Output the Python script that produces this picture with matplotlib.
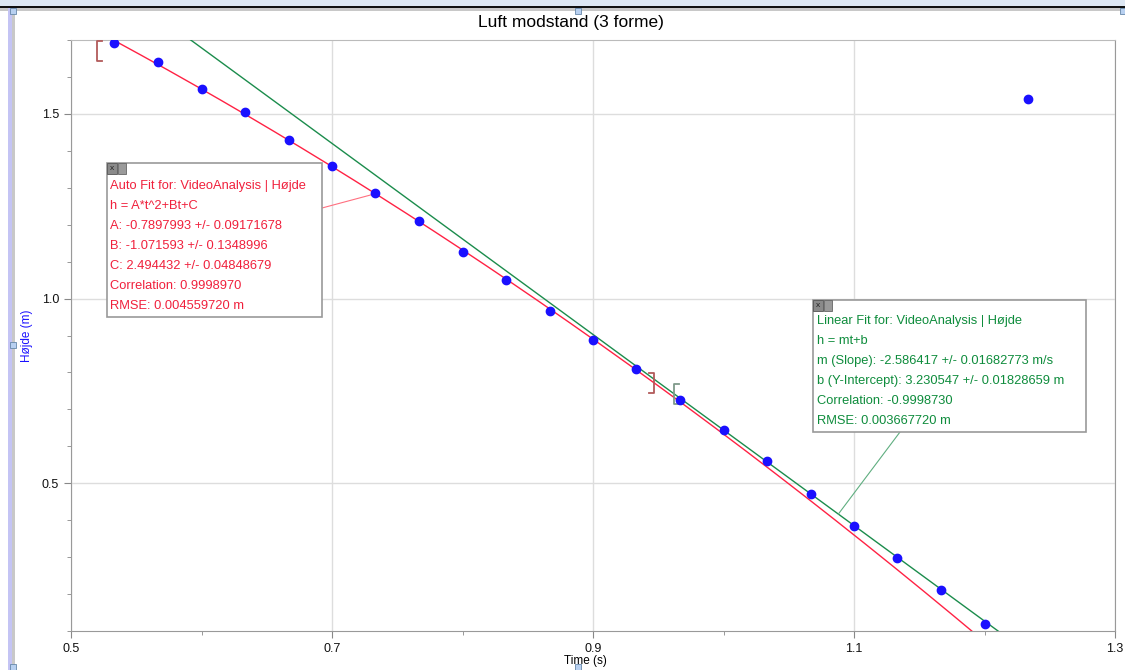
#!/usr/bin/env python3
# -*- coding: utf-8 -*-
"""
Luft modstand (3 forme) - video analysis plot with auto fit + linear fit
"""

import numpy as np
import matplotlib.pyplot as plt
from matplotlib.patches import Rectangle

plt.rcParams['font.family'] = ['Liberation Sans', 'DejaVu Sans']

# measured points (time in s, height in m)
T = [0.5333, 0.5667, 0.6000, 0.6333, 0.6667, 0.7000, 0.7333, 0.7667,
     0.8000, 0.8333, 0.8667, 0.9000, 0.9333, 0.9667, 1.0000, 1.0333,
     1.0667, 1.1000, 1.1333, 1.1667, 1.2000, 1.2333]
H = [1.692, 1.641, 1.568, 1.505, 1.430, 1.359, 1.286, 1.210,
     1.126, 1.050, 0.967, 0.889, 0.808, 0.725, 0.644, 0.560,
     0.470, 0.383, 0.297, 0.210, 0.118, 1.541]

# fit parameters
A, B, C = -0.7897993, -1.071593, 2.494432
m, b = -2.586417, 3.230547
quad_range = [0.520, 0.947]
lin_range = [0.962, 1.25]

quad_text = ["Auto Fit for: VideoAnalysis | Højde",
             "h = A*t^2+Bt+C",
             "A: -0.7897993 +/- 0.09171678",
             "B: -1.071593 +/- 0.1348996",
             "C: 2.494432 +/- 0.04848679",
             "Correlation: 0.9998970",
             "RMSE: 0.004559720 m"]
lin_text = ["Linear Fit for: VideoAnalysis | Højde",
            "h = mt+b",
            "m (Slope): -2.586417 +/- 0.01682773 m/s",
            "b (Y-Intercept): 3.230547 +/- 0.01828659 m",
            "Correlation: -0.9998730",
            "RMSE: 0.003667720 m"]

RED = '#ff2244'
RED_TXT = '#f0203c'
GREEN = '#1b8c4c'
GREEN_TXT = '#0e8c3c'
BLUE = '#1a10ff'


def quad(t):
    return A*t**2 + B*t + C


def lin(t):
    return m*t + b


fig = plt.figure(figsize=(11.25, 6.7), dpi=100)
W, Hpx = 1125., 670.
AX_L, AX_T, AX_W, AX_H = 71., 40., 1044., 591.
ax = fig.add_axes([AX_L/W, 1-(AX_T+AX_H)/Hpx, AX_W/W, AX_H/Hpx])


def fx(px):
    # pixel x -> axes fraction
    return (px-AX_L)/AX_W


def fy(py):
    # pixel y (from top) -> axes fraction
    return (AX_T+AX_H-py)/AX_H


xlo, xhi, ylo, yhi = 0.5, 1.3, 0.1, 1.7
ax.set_xlim(xlo, xhi)
ax.set_ylim(ylo, yhi)

# fit curves
tq = np.linspace(T[0], 1.21, 300)
ax.plot(tq, quad(tq), color=RED, lw=1.0, zorder=3)
tl = np.linspace(xlo, xhi, 50)
ax.plot(tl, lin(tl), color=GREEN, lw=1.0, zorder=3)

# data points
ax.plot(T, H, 'o', color=BLUE, ms=6, mec=BLUE, zorder=5)

# ticks & grid
ax.set_xticks([0.5, 0.7, 0.9, 1.1, 1.3])
ax.set_xticks([0.6, 0.8, 1.0, 1.2], minor=True)
ax.set_yticks([0.5, 1.0, 1.5])
ax.set_yticks([0.1, 0.2, 0.3, 0.4, 0.6, 0.7, 0.8, 0.9, 1.1, 1.2, 1.3, 1.4, 1.6, 1.7], minor=True)
ax.grid(True, which='major', color='#dddddd', lw=1.0, zorder=0)
ax.tick_params(which='both', direction='out', colors='#888888', labelcolor='#111111', labelsize=9)
ax.tick_params(which='major', length=5)
ax.tick_params(which='minor', length=3)
ax.tick_params(axis='x', pad=4)
for s in ax.spines.values():
    s.set_color('#999999')
ax.spines['top'].set_color('#bbbbbb')

ax.set_title("Luft modstand (3 forme)", fontsize=12.5, x=fx(571), y=1.0, pad=9)
ax.set_xlabel("Time (s)", fontsize=8.5)
ax.xaxis.set_label_coords(fx(585), fy(655))
ax.set_ylabel("Højde (m)", fontsize=8.5, color=BLUE)
ax.yaxis.set_label_coords(fx(33), 0.5)

# fit range brackets
dy = 10 * (yhi-ylo) / AX_H
dx = 5 * (xhi-xlo) / AX_W


def bracket(t, yc, col, left=True):
    s = 1 if left else -1
    ax.plot([t+s*dx, t, t, t+s*dx], [yc+dy, yc+dy, yc-dy, yc-dy],
            color=col, lw=1.3, clip_on=False, zorder=4)


bracket(quad_range[0], min(quad(quad_range[0]), yhi-0.03), '#b25a5a', True)
bracket(quad_range[1], quad(quad_range[1]), '#b25a5a', False)
bracket(lin_range[0], lin(lin_range[0]), '#7f9a8a', True)


# annotation boxes, given in pixel corners of the reference
def fit_box(px0, py0, px1, py1, lines, col, lx, ly0, dly):
    x0, x1 = fx(px0), fx(px1)
    y0, y1 = fy(py1), fy(py0)
    ax.add_patch(Rectangle((x0, y0), x1-x0, y1-y0, transform=ax.transAxes,
                           fc='white', ec='#999999', lw=1.2, zorder=6))
    # little close / minimise buttons
    bw, bh = 10/AX_W, 11/AX_H
    ax.add_patch(Rectangle((x0, y1-bh), bw, bh, transform=ax.transAxes,
                           fc='#8a8a8a', ec='#555555', lw=0.6, zorder=7))
    ax.text(x0+bw/2, y1-bh/2, 'x', transform=ax.transAxes, fontsize=6,
            ha='center', va='center', color='#222222', zorder=8)
    ax.add_patch(Rectangle((x0+bw+1/AX_W, y1-bh), 8/AX_W, bh, transform=ax.transAxes,
                           fc='#9a9a9a', ec='#666666', lw=0.6, zorder=7))
    for i, l in enumerate(lines):
        ax.text(fx(lx), fy(ly0 + i*dly), l, transform=ax.transAxes, fontsize=9.3,
                color=col, ha='left', va='center', zorder=8)


fit_box(107, 163, 322, 317, quad_text, RED_TXT, 110, 186, 20)
fit_box(813, 300, 1086, 432, lin_text, GREEN_TXT, 817, 321, 20)

# connector lines box -> fit
ax.annotate('', xy=(T[6], quad(T[6])), xycoords='data',
            xytext=(fx(322), fy(208)), textcoords='axes fraction',
            arrowprops=dict(arrowstyle='-', color='#ff7080', lw=0.8,
                            shrinkA=0, shrinkB=0), zorder=4)
ax.annotate('', xy=(1.088, lin(1.088)), xycoords='data',
            xytext=(fx(900), fy(432)), textcoords='axes fraction',
            arrowprops=dict(arrowstyle='-', color='#5fae80', lw=0.8,
                            shrinkA=0, shrinkB=0), zorder=4)

# window chrome around the graph
fig.patches.append(Rectangle((0, 1-6/Hpx), 1, 6/Hpx, transform=fig.transFigure,
                             fc='#dde7f3', ec='none'))
fig.patches.append(Rectangle((0, 1-8/Hpx), 1, 2/Hpx, transform=fig.transFigure,
                             fc='#111111', ec='none'))
fig.patches.append(Rectangle((0, 1-11/Hpx), 1, 3/Hpx, transform=fig.transFigure,
                             fc='#c8c8c8', ec='none'))
fig.patches.append(Rectangle((8/W, 0), 4/W, 1-8/Hpx, transform=fig.transFigure,
                             fc='#c4c4f4', ec='none'))
fig.patches.append(Rectangle((12/W, 0), 3/W, 1-8/Hpx, transform=fig.transFigure,
                             fc='#c8c8c8', ec='none'))
for (px, py) in [(10, 8), (10, 342), (10, 664), (575, 8), (1120, 8), (575, 664)]:
    fig.patches.append(Rectangle((px/W, 1-(py+6)/Hpx), 6/W, 6/Hpx, transform=fig.transFigure,
                                 fc='#b8d0f0', ec='#6688aa', lw=0.6))

fig.savefig('out.png', dpi=100)
